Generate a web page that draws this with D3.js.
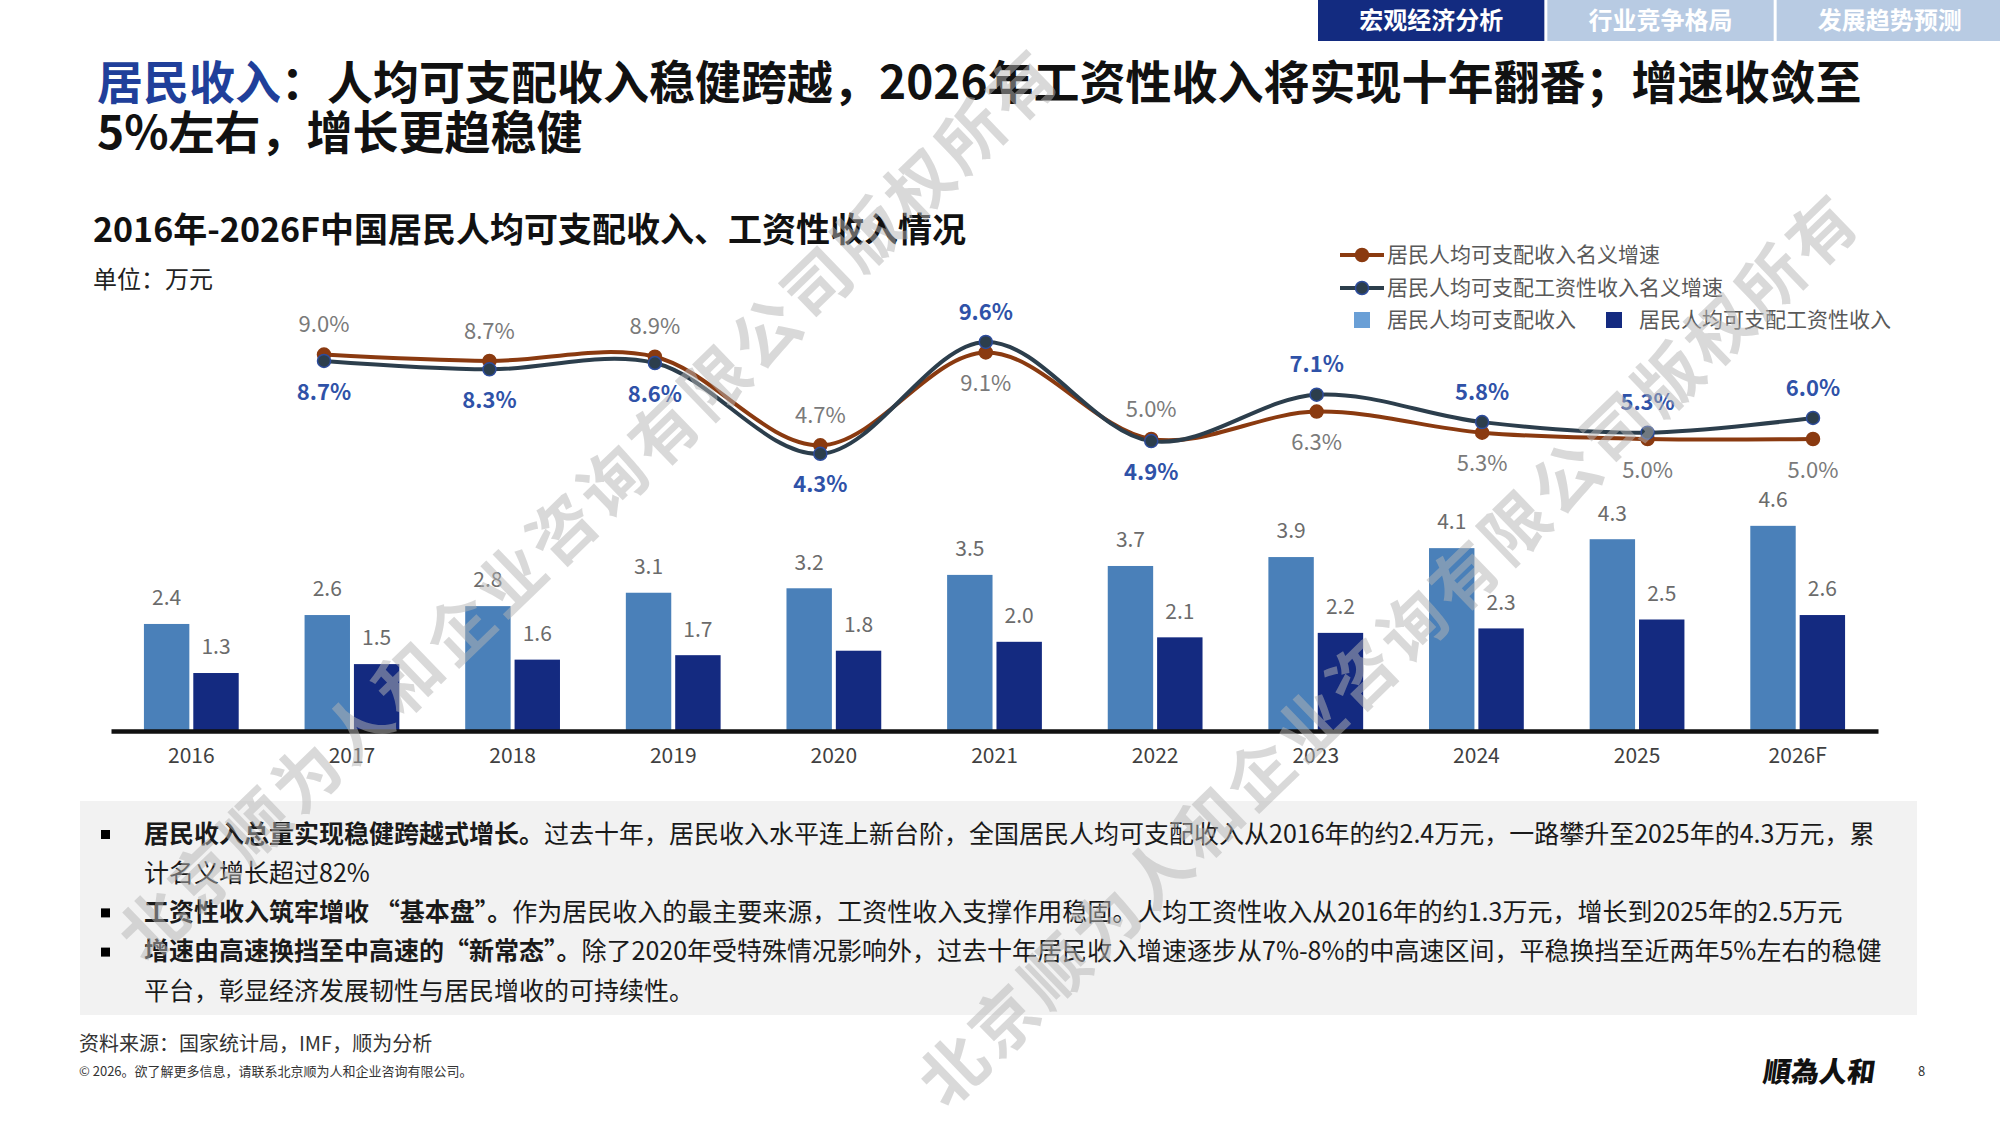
<!DOCTYPE html>
<html>
<head>
<meta charset="utf-8">
<script src="https://cdn.jsdelivr.net/npm/d3@7"></script>
<style>
body{margin:0;background:#fff;}
svg{display:block;font-family:"Noto Sans CJK SC","Noto Sans",sans-serif;}
</style>
</head>
<body>
<svg width="2000" height="1125"></svg>
<script>
// data
var years = ["2016","2017","2018","2019","2020","2021","2022","2023","2024","2025","2026F"];
var disposable = [2.4,2.6,2.8,3.1,3.2,3.5,3.7,3.9,4.1,4.3,4.6];
var wage = [1.3,1.5,1.6,1.7,1.8,2.0,2.1,2.2,2.3,2.5,2.6];
var growthYears = ["2017","2018","2019","2020","2021","2022","2023","2024","2025","2026F"];
var dispGrowth = [9.0,8.7,8.9,4.7,9.1,5.0,6.3,5.3,5.0,5.0];
var wageGrowth = [8.7,8.3,8.6,4.3,9.6,4.9,7.1,5.8,5.3,6.0];
var barNames = ["居民人均可支配收入","居民人均可支配工资性收入"];
var lineNames = ["居民人均可支配收入名义增速","居民人均可支配工资性收入名义增速"];
var tabs = ["宏观经济分析","行业竞争格局","发展趋势预测"];

var barColors = ["#4a80b9","#142a80"];
var legendSq = ["#6a9fd6","#142a80"];
var lineColors = ["#8a3a10","#2c3e4c"];

var svg = d3.select("svg");
svg.append("rect").attr("width",2000).attr("height",1125).attr("fill","#fff");

// top tabs
var xt = d3.scaleBand().domain(tabs).range([1318,2003]).paddingInner(0.013);
var tg = svg.append("g").selectAll("g").data(tabs).enter().append("g");
tg.append("rect")
  .attr("x", function(d){return xt(d);})
  .attr("y",0).attr("width", xt.bandwidth()).attr("height",41)
  .attr("fill", function(d,i){return i==0 ? "#132b80" : "#b8cbe3";});
tg.append("text")
  .attr("x", function(d){return xt(d)+xt.bandwidth()/2;})
  .attr("y",21).attr("dy","0.35em")
  .attr("text-anchor","middle").attr("fill","#fff")
  .attr("font-size",24).attr("font-weight",700)
  .text(function(d){return d;});

// title, one text with two lines
var title = svg.append("text").attr("x",97).attr("y",99).attr("font-size",46).attr("font-weight",700).attr("fill","#111");
title.append("tspan").attr("fill","#203f9a").text("居民收入");
title.append("tspan").text("：人均可支配收入稳健跨越，2026年工资性收入将实现十年翻番；增速收敛至");
title.append("tspan").attr("x",97).attr("dy",50).text("5%左右，增长更趋稳健");

svg.append("text").attr("x",93).attr("y",242).attr("font-size",34).attr("font-weight",700)
  .attr("fill","#111").text("2016年-2026F中国居民人均可支配收入、工资性收入情况");
svg.append("text").attr("x",93).attr("y",288).attr("font-size",24)
  .attr("fill","#222").text("单位：万元");

// scales
var x0 = d3.scaleBand().domain(years).range([111,1878]).paddingInner(0.41).paddingOuter(0.205);
var x1 = d3.scaleBand().domain([0,1]).range([0,x0.bandwidth()]).paddingInner(0.08);
var y = d3.scaleLinear().domain([0,5]).range([731,508]);
var xl = d3.scalePoint().domain(growthYears).range([324,1813]);
var yl = d3.scaleLinear().domain([0,10]).range([544.5,333.5]);

// bars
var series = [disposable, wage];
series.forEach(function(vals, s){
  var g = svg.append("g");
  g.selectAll("rect").data(vals).enter().append("rect")
    .attr("x", function(d,i){return x0(years[i])+x1(s);})
    .attr("y", function(d){return y(d);})
    .attr("width", x1.bandwidth())
    .attr("height", function(d){return y(0)-y(d);})
    .attr("fill", barColors[s]);
  g.selectAll("text").data(vals).enter().append("text")
    .attr("x", function(d,i){return x0(years[i])+x1(s)+x1.bandwidth()/2;})
    .attr("y", function(d){return y(d)-26;})
    .attr("dy","0.35em")
    .attr("text-anchor","middle")
    .attr("font-size",21).attr("fill","#6b6b6b")
    .text(function(d){return d.toFixed(1);});
});

// x axis
var ax = svg.append("g").attr("transform","translate(0,731)")
  .call(d3.axisBottom(x0).tickSize(0).tickSizeOuter(0));
ax.select(".domain").attr("stroke","#111").attr("stroke-width",4.5);
ax.selectAll("text").attr("y",25).attr("dy","0.35em")
  .attr("font-size",21).attr("fill","#404040")
  .attr("font-family","'Noto Sans CJK SC','Noto Sans',sans-serif");

// growth lines
var lineGen = d3.line()
  .x(function(d,i){return xl(growthYears[i]);})
  .y(function(d){return yl(d);})
  .curve(d3.curveCatmullRom.alpha(0.5));
var lines = [dispGrowth, wageGrowth];
lines.forEach(function(vals, s){
  svg.append("path").datum(vals)
    .attr("d", lineGen)
    .attr("fill","none")
    .attr("stroke", lineColors[s])
    .attr("stroke-width",4);
});
lines.forEach(function(vals, s){
  svg.append("g").selectAll("circle").data(vals).enter().append("circle")
    .attr("cx", function(d,i){return xl(growthYears[i]);})
    .attr("cy", function(d){return yl(d);})
    .attr("r",6.5)
    .attr("fill", lineColors[s])
    .attr("stroke", s==0 ? lineColors[0] : "#2d4c9c")
    .attr("stroke-width",1.5);
});
// growth labels: higher series above, lower below
lines.forEach(function(vals, s){
  var other = lines[1-s];
  svg.append("g").selectAll("text").data(vals).enter().append("text")
    .attr("x", function(d,i){return xl(growthYears[i]);})
    .attr("y", function(d,i){
      var up = s==0 ? d >= other[i] : d > other[i];
      return yl(d) + (up ? -30 : 31);
    })
    .attr("dy","0.35em")
    .attr("text-anchor","middle")
    .attr("font-size",22)
    .attr("font-weight", s==1 ? 700 : 400)
    .attr("fill", s==1 ? "#2f52a8" : "#7a7a7a")
    .text(function(d){return d.toFixed(1)+"%";});
});

// legend
var lg = svg.append("g");
lineNames.forEach(function(n, i){
  var yy = 255 + i*33;
  lg.append("line").attr("x1",1340).attr("x2",1384).attr("y1",yy).attr("y2",yy)
    .attr("stroke", lineColors[i]).attr("stroke-width",4);
  lg.append("circle").attr("cx",1362).attr("cy",yy).attr("r",6.5)
    .attr("fill", lineColors[i]).attr("stroke", i==0 ? lineColors[0] : "#2d4c9c").attr("stroke-width",1.5);
  lg.append("text").attr("x",1387).attr("y",yy).attr("dy","0.35em")
    .attr("font-size",21).attr("fill","#595959").text(n);
});
var sqX = [1354,1606];
barNames.forEach(function(n, i){
  var yy = 320;
  lg.append("rect").attr("x",sqX[i]).attr("y",yy-8).attr("width",16).attr("height",16)
    .attr("fill", legendSq[i]);
  lg.append("text").attr("x",sqX[i]+33).attr("y",yy).attr("dy","0.35em")
    .attr("font-size",21).attr("fill","#595959").text(n);
});

// commentary box
svg.append("rect").attr("x",80).attr("y",801).attr("width",1837).attr("height",214).attr("fill","#f2f2f2");
var bullets = [
  [["居民收入总量实现稳健跨越式增长。",1],["过去十年，居民收入水平连上新台阶，全国居民人均可支配收入从2016年的约2.4万元，一路攀升至2025年的4.3万元，累",0]],
  [["计名义增长超过82%",0]],
  [["工资性收入筑牢增收 “基本盘”。",1],["作为居民收入的最主要来源，工资性收入支撑作用稳固。人均工资性收入从2016年的约1.3万元，增长到2025年的2.5万元",0]],
  [["增速由高速换挡至中高速的“新常态”。",1],["除了2020年受特殊情况影响外，过去十年居民收入增速逐步从7%-8%的中高速区间，平稳换挡至近两年5%左右的稳健",0]],
  [["平台，彰显经济发展韧性与居民增收的可持续性。",0]]
];
var hasBullet = [1,0,1,1,0];
bullets.forEach(function(parts, i){
  var yy = 834 + i*39.2;
  if (hasBullet[i]) {
    svg.append("rect").attr("x",101).attr("y",yy-4).attr("width",9).attr("height",9).attr("fill","#000");
  }
  var t = svg.append("text").attr("x",144).attr("y",yy).attr("dy","0.35em")
    .attr("font-size",25).attr("fill","#1a1a1a");
  parts.forEach(function(p){
    t.append("tspan").attr("font-weight", p[1] ? 700 : 400).text(p[0]);
  });
});

// footer
svg.append("text").attr("x",79).attr("y",1044).attr("dy","0.35em")
  .attr("font-size",20).attr("fill","#333").text("资料来源：国家统计局，IMF，顺为分析");
svg.append("text").attr("x",79).attr("y",1071).attr("dy","0.35em")
  .attr("font-size",13).attr("fill","#333").text("© 2026。欲了解更多信息，请联系北京顺为人和企业咨询有限公司。");
svg.append("text").attr("x",1764).attr("y",1072).attr("dy","0.35em")
  .attr("font-size",28).attr("font-weight",900).attr("fill","#111")
  .attr("transform","skewX(-8) translate(150,0)")
  .text("順為人和");
svg.append("text").attr("x",1918).attr("y",1071).attr("dy","0.35em")
  .attr("font-size",13).attr("fill","#333").text("8");

// watermarks
var marks = [[590,505,-44],[1390,650,-44]];
svg.append("g").selectAll("text").data(marks).enter().append("text")
  .attr("transform", function(d){return "translate("+d[0]+","+d[1]+") rotate("+d[2]+")";})
  .attr("text-anchor","middle").attr("dy","0.35em")
  .attr("font-size",66).attr("font-weight",700)
  .attr("letter-spacing",5)
  .attr("fill","#b5b5b5").attr("opacity",0.5)
  .text("北京顺为人和企业咨询有限公司版权所有");
</script>
</body>
</html>
